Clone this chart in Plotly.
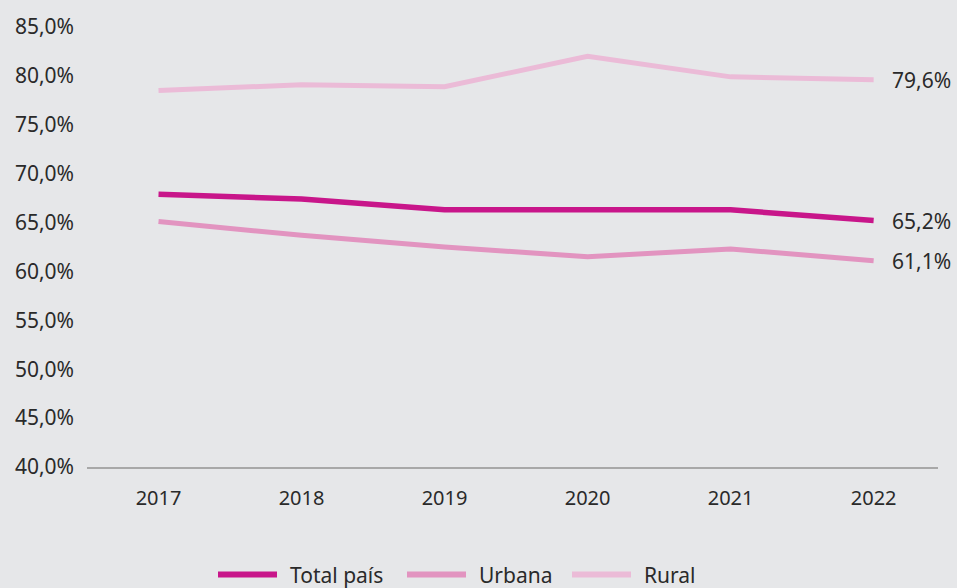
import plotly.graph_objects as go

# ── Data ─────────────────────────────────────────────────────────────────────
years = ["2017", "2018", "2019", "2020", "2021", "2022"]
total_pais = [67.9, 67.4, 66.3, 66.3, 66.3, 65.2]
urbana = [65.1, 63.7, 62.5, 61.5, 62.3, 61.1]
rural = [78.5, 79.1, 78.9, 82.0, 79.9, 79.6]
y_ticks = [40, 45, 50, 55, 60, 65, 70, 75, 80, 85]
series_names = ["Total país", "Urbana", "Rural"]

COLORS = {
    "Total país": "#C8168A",
    "Urbana": "#E294C0",
    "Rural": "#EBBBD7",
}
FONT = "'Noto Sans', sans-serif"
TEXT = "#2A2A2A"
BG = "#E6E7E9"

# plot area in pixels (used for the hand-made legend)
W, H = 957, 588
M_L, M_R, M_T, M_B = 87, 19, 25, 121
PLOT_W = W - M_L - M_R
PLOT_H = H - M_T - M_B
LEGEND_Y_PX = 575
LEGEND_X_PX = [218, 407, 572]   # start of each swatch
SWATCH_LEN = 59


def px_x(px):
    return (px - M_L) / PLOT_W


def px_y(py):
    return (H - M_B - py) / PLOT_H


fig = go.Figure()
for name, vals in zip(series_names, [total_pais, urbana, rural]):
    fig.add_trace(go.Scatter(
        x=years, y=vals, name=name, mode="lines",
        line=dict(color=COLORS[name], width=5.5 if name == "Total país" else 5),
        cliponaxis=False, showlegend=False,
    ))
    # end label (category index of the last year)
    fig.add_annotation(
        x=len(years) - 1, y=vals[-1],
        text=f"{vals[-1]:.1f}%".replace(".", ","),
        showarrow=False, xanchor="left", xshift=16,
        font=dict(size=21, color=TEXT, family=FONT),
    )

# legend: long swatch + label, like the original
ly = px_y(LEGEND_Y_PX)
for name, x0 in zip(series_names, LEGEND_X_PX):
    fig.add_shape(
        type="line", xref="paper", yref="paper",
        x0=px_x(x0), x1=px_x(x0 + SWATCH_LEN), y0=ly, y1=ly,
        line=dict(color=COLORS[name], width=6),
    )
    fig.add_annotation(
        xref="paper", yref="paper", x=px_x(x0 + SWATCH_LEN + 11), y=ly,
        text=name, showarrow=False, xanchor="left", yanchor="middle",
        font=dict(size=21, color=TEXT, family=FONT),
    )

fig.update_layout(
    width=W, height=H,
    paper_bgcolor=BG, plot_bgcolor=BG,
    margin=dict(l=M_L, r=M_R, t=M_T, b=M_B),
    font=dict(family=FONT, size=20, color=TEXT),
    showlegend=False,
)
fig.update_xaxes(
    showgrid=False, showline=True, linecolor="#A8A8A8", linewidth=2,
    ticks="", ticklabelstandoff=12, tickfont=dict(size=20, color=TEXT),
    range=[-0.5, 5.45],
)
fig.update_yaxes(
    range=[40, 85], tickvals=y_ticks,
    ticktext=[f"{v:.1f}%".replace(".", ",") for v in y_ticks],
    showgrid=False, zeroline=False, showline=False,
    tickfont=dict(size=21, color=TEXT), ticklabelstandoff=12,
)

fig.write_html(
    "out.html",
    config={"displayModeBar": False},
    post_script="document.body.style.margin='0';",
)
